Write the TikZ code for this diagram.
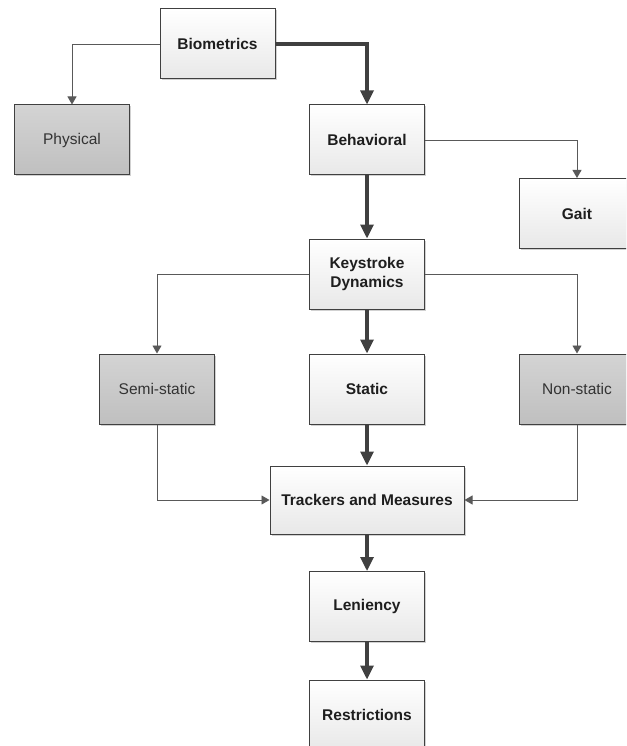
\documentclass[tikz,border=0pt]{standalone}
\usepackage{fontspec}
\setmainfont{Liberation Sans}
\usepackage{tikz}
\usetikzlibrary{arrows.meta,shadows}
\definecolor{edgecolor}{HTML}{404040}
\definecolor{textcolor}{HTML}{1E1E1E}
\tikzset{category/.style={draw=edgecolor,line width=1pt,minimum width=115pt,minimum height=70pt,inner sep=2pt,align=center,font=\fontsize{15.5}{19}\selectfont\bfseries,text=textcolor,top color=white,bottom color=black!9,drop shadow={shadow xshift=1.5pt,shadow yshift=-1.5pt,fill=black!30,opacity=.6}},leaf/.style={category,font=\fontsize{15.5}{19}\selectfont,text=black!80,top color=black!17,bottom color=black!25},main edge/.style={-{Triangle[length=14pt,width=13pt]},draw=edgecolor,line width=3.2pt},side edge/.style={-{Triangle[length=8pt,width=9pt]},draw=black!65,line width=.9pt}}

\begin{document}
\begin{tikzpicture}[x=1pt,y=-1pt]
 \useasboundingbox (0,0) rectangle (626,746);
 \clip (0,0) rectangle (626,746);
 \node[category] (bio) at (217.5,44) {Biometrics};
 \node[leaf] (phys) at (72,140) {Physical};
 \node[category] (beh) at (367,140) {Behavioral};
 \node[category] (gait) at (577,213.5) {Gait};
 \node[category] (key) at (367,274) {Keystroke\\Dynamics};

 \node[leaf] (semi) at (157,389) {Semi-static};
 \node[category] (stat) at (367,389) {Static};
 \node[leaf] (non) at (577,389) {Non-static};
 \node[category,minimum width=194pt,minimum height=68pt] (track) at (367,500) {Trackers and Measures};
 \node[category] (len) at (367,606.5) {Leniency};
 \node[category] (restr) at (367,715) {Restrictions};

 \foreach \src/\dst in {bio.west/phys.north,beh.east/gait.north,key.west/semi.north,key.east/non.north} {\draw[side edge] (\src) -| (\dst);}
 \foreach \src/\dst in {semi.south/track.west,non.south/track.east} {\draw[side edge] (\src) |- (\dst);}
 \draw[main edge] (bio.east) -| (beh.north);
 \foreach \src/\dst in {beh/key,key/stat,stat/track,track/len,len/restr} {\draw[main edge] (\src) -- (\dst);}
\end{tikzpicture}
\end{document}
